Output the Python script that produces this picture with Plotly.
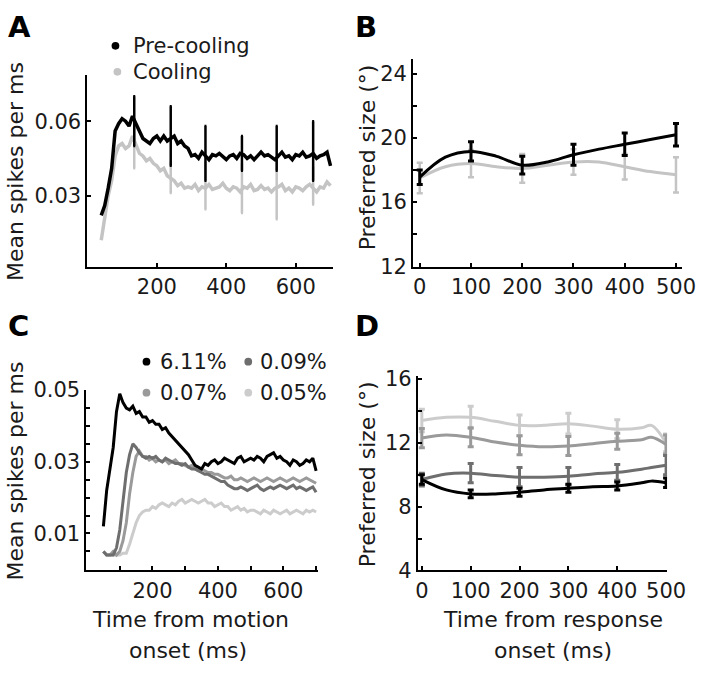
import plotly.graph_objects as go

# ---- panel A: mean spikes, pre-cooling vs cooling (10 ms bins, 40..700 ms)
t_a = list(range(40, 710, 10))
pre_a = [0.022, 0.026, 0.033, 0.041, 0.056, 0.059, 0.061, 0.060, 0.058, 0.062,
         0.059, 0.056, 0.053, 0.052, 0.051, 0.053, 0.054, 0.052, 0.054, 0.052,
         0.053, 0.054, 0.051, 0.052, 0.050, 0.049, 0.046, 0.0465, 0.045, 0.0475,
         0.046, 0.0445, 0.0465, 0.046, 0.047, 0.0455, 0.0445, 0.046, 0.0465, 0.045,
         0.047, 0.0465, 0.045, 0.046, 0.0445, 0.046, 0.0475, 0.046, 0.0465, 0.0455,
         0.0445, 0.046, 0.0475, 0.0455, 0.046, 0.0445, 0.0465, 0.046, 0.0475, 0.0455,
         0.046, 0.047, 0.045, 0.046, 0.0465, 0.0475, 0.042]
cool_a = [0.012, 0.022, 0.030, 0.036, 0.046, 0.050, 0.051, 0.049, 0.050, 0.054,
          0.050, 0.047, 0.046, 0.044, 0.045, 0.043, 0.042, 0.040, 0.041, 0.038,
          0.037, 0.036, 0.034, 0.035, 0.033, 0.0335, 0.033, 0.0345, 0.032, 0.0335,
          0.033, 0.0345, 0.0325, 0.033, 0.0335, 0.035, 0.033, 0.032, 0.0335, 0.033,
          0.0315, 0.0335, 0.033, 0.0345, 0.032, 0.0325, 0.034, 0.0325, 0.033, 0.0315,
          0.033, 0.0335, 0.0345, 0.032, 0.033, 0.0315, 0.0335, 0.033, 0.032, 0.0335,
          0.0345, 0.033, 0.0315, 0.0335, 0.033, 0.0355, 0.034]
err_t_a = [135, 240, 340, 445, 545, 650]
pre_err_mean = [0.060, 0.054, 0.047, 0.047, 0.049, 0.048]
pre_err = [0.010, 0.012, 0.011, 0.007, 0.009, 0.012]
cool_err_mean = [0.050, 0.037, 0.034, 0.033, 0.033, 0.034]
cool_err = [0.009, 0.006, 0.0095, 0.010, 0.0125, 0.0076]

# ---- panel B: preferred size, pre-cooling vs cooling
t_b = [0, 50, 100, 150, 200, 250, 300, 350, 400, 450, 500]
pre_b = [17.55, 18.8, 19.16, 18.85, 18.3, 18.5, 18.95, 19.3, 19.6, 19.9, 20.2]
cool_b = [17.5, 18.2, 18.4, 18.2, 18.1, 18.3, 18.5, 18.5, 18.2, 17.9, 17.7]
err_t_b = [0, 100, 200, 300, 400, 500]
pre_b_err = [0.45, 0.6, 0.55, 0.65, 0.7, 0.7]
cool_b_err = [0.95, 0.85, 0.9, 0.8, 0.8, 1.1]

# ---- panel C: mean spikes by concentration (10 ms bins, 50..700 ms)
t_c = list(range(50, 710, 10))
c611 = [0.012, 0.022, 0.028, 0.034, 0.044, 0.049, 0.0465, 0.045, 0.0445, 0.0455,
        0.0435, 0.044, 0.0425, 0.0425, 0.041, 0.0415, 0.0405, 0.0405, 0.039, 0.0395,
        0.038, 0.037, 0.036, 0.035, 0.034, 0.033, 0.032, 0.0305, 0.029, 0.0285,
        0.028, 0.0295, 0.029, 0.030, 0.0305, 0.0295, 0.030, 0.031, 0.0305, 0.030,
        0.0295, 0.031, 0.0315, 0.030, 0.0305, 0.031, 0.0305, 0.0315, 0.031, 0.030,
        0.0315, 0.032, 0.0325, 0.031, 0.0315, 0.0305, 0.030, 0.029, 0.0305, 0.030,
        0.029, 0.0295, 0.0305, 0.030, 0.031, 0.0275]
c009 = [0.005, 0.004, 0.004, 0.004, 0.006, 0.011, 0.019, 0.027, 0.032, 0.035,
        0.034, 0.0325, 0.0315, 0.031, 0.0315, 0.031, 0.0315, 0.0305, 0.030, 0.031,
        0.0305, 0.030, 0.0295, 0.0295, 0.029, 0.0295, 0.0285, 0.028, 0.028, 0.0275,
        0.027, 0.0265, 0.0265, 0.026, 0.0255, 0.025, 0.0245, 0.0245, 0.0235, 0.023,
        0.0225, 0.0225, 0.023, 0.0225, 0.022, 0.0225, 0.023, 0.0235, 0.0225, 0.022,
        0.0225, 0.023, 0.0225, 0.023, 0.0235, 0.023, 0.0225, 0.023, 0.0235, 0.0225,
        0.023, 0.0225, 0.022, 0.0225, 0.023, 0.0215]
c007 = [0.005, 0.004, 0.004, 0.005, 0.004, 0.005, 0.008, 0.013, 0.021, 0.027,
        0.0315, 0.033, 0.0315, 0.0315, 0.0305, 0.031, 0.030, 0.0305, 0.030, 0.0305,
        0.0295, 0.030, 0.0305, 0.0295, 0.0295, 0.029, 0.0285, 0.029, 0.028, 0.0275,
        0.028, 0.0275, 0.027, 0.027, 0.0265, 0.0265, 0.026, 0.0255, 0.0255, 0.026,
        0.025, 0.025, 0.0255, 0.025, 0.0245, 0.025, 0.0255, 0.025, 0.0245, 0.025,
        0.0255, 0.025, 0.0245, 0.025, 0.0255, 0.025, 0.0245, 0.025, 0.0255, 0.025,
        0.0245, 0.025, 0.0255, 0.025, 0.0245, 0.024]
c005 = [0.005, 0.004, 0.004, 0.004, 0.004, 0.004, 0.0045, 0.0045, 0.007, 0.010,
        0.013, 0.015, 0.016, 0.0165, 0.0165, 0.0175, 0.017, 0.018, 0.0185, 0.018,
        0.0175, 0.0185, 0.018, 0.019, 0.0195, 0.0185, 0.019, 0.0195, 0.019, 0.0185,
        0.019, 0.0195, 0.0185, 0.0185, 0.0175, 0.018, 0.0185, 0.0175, 0.0175, 0.0165,
        0.017, 0.0175, 0.0165, 0.017, 0.016, 0.0165, 0.0165, 0.016, 0.0155, 0.0165,
        0.016, 0.0155, 0.0165, 0.016, 0.0155, 0.016, 0.0165, 0.0155, 0.016, 0.0165,
        0.016, 0.0155, 0.0165, 0.016, 0.0165, 0.016]

# ---- panel D: preferred size by concentration
t_d = [0, 50, 100, 150, 200, 250, 300, 350, 400, 450, 470, 500]
d005 = [13.4, 13.6, 13.6, 13.35, 13.1, 13.1, 13.2, 13.05, 12.85, 12.95, 13.1, 12.0]
d007 = [12.3, 12.5, 12.35, 12.05, 11.85, 11.75, 11.8, 11.95, 12.1, 12.2, 12.35, 11.9]
d009 = [9.7, 10.05, 10.1, 9.95, 9.85, 9.85, 9.9, 10.05, 10.15, 10.35, 10.45, 10.6]
d611 = [9.7, 9.05, 8.8, 8.8, 8.9, 9.05, 9.15, 9.25, 9.3, 9.5, 9.6, 9.5]
err_t_d = [0, 100, 200, 300, 400, 500]
d005_err = [0.7, 0.7, 0.65, 0.65, 0.6, 0.55]
d007_err = [0.6, 0.6, 0.6, 0.6, 0.5, 0.6]
d009_err = [0.4, 0.6, 0.6, 0.55, 0.5, 0.6]
d611_err = [0.3, 0.25, 0.25, 0.25, 0.25, 0.3]

BLACK = "#000000"
GREY_A = "#c4c4c4"
G09, G07, G05 = "#6e6e6e", "#9a9a9a", "#cccccc"
FONT = "DejaVu Sans"
TXT = "#1a1a1a"

fig = go.Figure()


def line(x, y, color, xa, ya, width=3.5, shape="linear"):
    fig.add_trace(go.Scatter(x=x, y=y, mode="lines", xaxis=xa, yaxis=ya,
                             line=dict(color=color, width=width, shape=shape),
                             hoverinfo="skip"))


def errs(x, y, e, color, xa, ya, thick=2.5, cap=3):
    fig.add_trace(go.Scatter(x=x, y=y, mode="markers", xaxis=xa, yaxis=ya,
                             marker=dict(size=1, opacity=0),
                             error_y=dict(type="data", array=e, color=color,
                                          thickness=thick, width=cap),
                             hoverinfo="skip"))


def pick(xs, ys, keep):
    return [y for x, y in zip(xs, ys) if x in keep]


# A
line(t_a, cool_a, GREY_A, "x", "y")
errs(err_t_a, cool_err_mean, cool_err, GREY_A, "x", "y", 2.5, 1)
line(t_a, pre_a, BLACK, "x", "y")
errs(err_t_a, pre_err_mean, pre_err, BLACK, "x", "y", 2.5, 1)

# B
line(t_b, cool_b, GREY_A, "x2", "y2", 3, "spline")
errs(err_t_b, pick(t_b, cool_b, err_t_b), cool_b_err, GREY_A, "x2", "y2")
line(t_b, pre_b, BLACK, "x2", "y2", 3, "spline")
errs(err_t_b, pick(t_b, pre_b, err_t_b), pre_b_err, BLACK, "x2", "y2", 3)

# C
for ys, col in [(c005, G05), (c007, G07), (c009, G09), (c611, BLACK)]:
    line(t_c, ys, col, "x3", "y3", 3)

# D
for ys, e, col in [(d005, d005_err, G05), (d007, d007_err, G07),
                   (d009, d009_err, G09), (d611, d611_err, BLACK)]:
    line(t_d, ys, col, "x4", "y4", 3, "spline")
    errs(err_t_d, pick(t_d, ys, err_t_d), e, col, "x4", "y4", 3)

W, H = 720, 680


def px(x0, x1):
    return [x0 / W, x1 / W]


def py(top, bottom):
    return [1 - bottom / H, 1 - top / H]


axis_common = dict(showline=True, linecolor="black", linewidth=2, ticks="inside",
                   ticklen=4, tickwidth=1.5, tickcolor="black", showgrid=False,
                   zeroline=False, tickfont=dict(family=FONT, size=21, color=TXT),
                   fixedrange=True)


def lab(vals, shown, fmt):
    return [fmt(v) if v in shown else "" for v in vals]


yc_vals = [round(0.005 * i, 3) for i in range(1, 11)]
fig.update_layout(
    width=W, height=H, margin=dict(l=0, r=0, t=0, b=0),
    paper_bgcolor="white", plot_bgcolor="white", showlegend=False,
    xaxis=dict(domain=px(87, 340), range=[0, 706], tickvals=[200, 400, 600],
               anchor="y", **axis_common),
    yaxis=dict(domain=py(66, 265), range=[0.0012, 0.0787], tickvals=[0.03, 0.06],
               ticktext=["0.03", "0.06"], anchor="x", **axis_common),
    xaxis2=dict(domain=px(423, 700), range=[-13, 511],
                tickvals=[0, 100, 200, 300, 400, 500], anchor="y2", **axis_common),
    yaxis2=dict(domain=py(50, 265), range=[11.95, 24.9],
                tickvals=[12, 14, 16, 18, 20, 22, 24],
                ticktext=lab([12, 14, 16, 18, 20, 22, 24], [12, 16, 20, 24], str),
                anchor="x2", **axis_common),
    xaxis3=dict(domain=px(86, 325), range=[-2, 706],
                tickvals=[100, 200, 300, 400, 500, 600, 700],
                ticktext=lab([100, 200, 300, 400, 500, 600, 700], [200, 400, 600], str),
                anchor="y3", **axis_common),
    yaxis3=dict(domain=py(392, 579), range=[-0.0003, 0.0501], tickvals=yc_vals,
                ticktext=lab(yc_vals, [0.01, 0.03, 0.05], lambda v: f"{v:.2f}"),
                anchor="x3", **axis_common),
    xaxis4=dict(domain=px(428, 685), range=[-8, 502],
                tickvals=[0, 100, 200, 300, 400, 500], anchor="y4", **axis_common),
    yaxis4=dict(domain=py(378, 579), range=[4, 16.18],
                tickvals=[4, 6, 8, 10, 12, 14, 16],
                ticktext=lab([4, 6, 8, 10, 12, 14, 16], [4, 8, 12, 16], str),
                anchor="x4", **axis_common),
)

ann = []


def text(x, y, s, size=21, xanchor="center", yanchor="middle", angle=0, color=TXT):
    ann.append(dict(x=x / W, y=1 - y / H, xref="paper", yref="paper", text=s,
                    showarrow=False, xanchor=xanchor, yanchor=yanchor,
                    textangle=angle, font=dict(family=FONT, size=size, color=color)))


# panel letters
for s, x, y in [("A", 3, 17), ("B", 361, 17), ("C", 3, 326), ("D", 361, 326)]:
    text(x, y, f"<b>{s}</b>", size=29, xanchor="left", color="black")

# y-axis titles
text(13, 166, "Mean spikes per ms", size=22, angle=-90)
text(13, 476, "Mean spikes per ms", size=22, angle=-90)
text(376, 152, "Preferred size (°)", size=22, angle=-90)
text(376, 480, "Preferred size (°)", size=22, angle=-90)

# x-axis titles
text(193, 630, "Time from motion", size=22)
text(191, 662, "onset (ms)", size=22)
text(567, 630, "Time from response", size=22)
text(567, 662, "onset (ms)", size=22)

# legends
legend_items = [
    (116, 36, BLACK, 132, "Pre-cooling"),
    (118, 63, GREY_A, 132, "Cooling"),
    (148, 363, BLACK, 160, "6.11%"),
    (253, 363, G09, 263, "0.09%"),
    (148, 395, G07, 160, "0.07%"),
    (253, 395, G05, 263, "0.05%"),
]
shapes = []
for cx, cy, col, tx, s in legend_items:
    r = 4
    shapes.append(dict(type="circle", xref="paper", yref="paper",
                       x0=(cx - r) / W, x1=(cx + r) / W,
                       y0=1 - (cy + r) / H, y1=1 - (cy - r) / H,
                       fillcolor=col, line=dict(width=0)))
    text(tx, cy, s, xanchor="left")

fig.update_layout(annotations=ann, shapes=shapes)

# the page's default body margin would push the figure 8px right/down
fig.write_html("out.html", config={"displayModeBar": False},
               post_script="document.body.style.margin='0';document.body.style.overflow='hidden';")
